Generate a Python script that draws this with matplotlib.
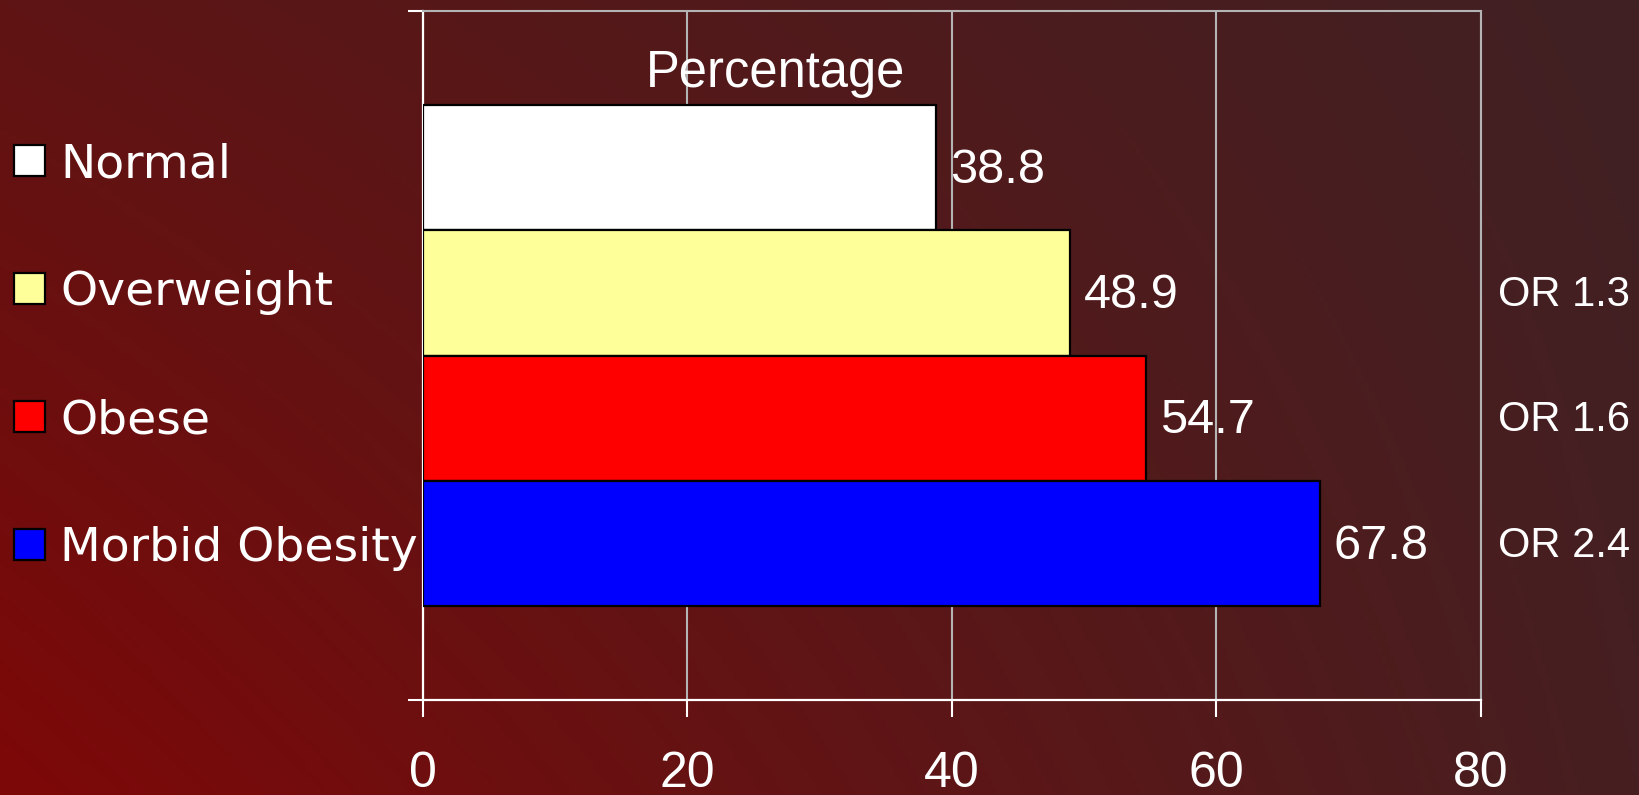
import numpy as np
import matplotlib
matplotlib.use("Agg")
import matplotlib.pyplot as plt
from matplotlib.patches import Rectangle

# ---- data ----
series = ["Normal", "Overweight", "Obese", "Morbid Obesity"]
values = [38.8, 48.9, 54.7, 67.8]
odds = ["", "OR 1.3", "OR 1.6", "OR 2.4"]
colors = ["#FFFFFF", "#FFFF99", "#FF0000", "#0000FF"]
xticks = [0, 20, 40, 60, 80]
title = "Percentage"

W, H = 1640, 795
fig = plt.figure(figsize=(W / 100, H / 100), dpi=100)

# ---- background gradient ----
bg = fig.add_axes([0, 0, 1, 1], zorder=-10)
bg.set_axis_off()
tl = np.array([95, 20, 20]) / 255
tr = np.array([64, 33, 36]) / 255
bl = np.array([126, 8, 8]) / 255
br = np.array([70, 31, 33]) / 255
u = np.linspace(0, 1, 400)[None, :, None]
v = np.linspace(0, 1, 200)[:, None, None]
top = tl * (1 - u) + tr * u
bot = bl * (1 - u) + br * u
img = top * (1 - v) + bot * v
bg.imshow(img, aspect="auto", extent=[0, 1, 0, 1], origin="upper")
bg.set_xlim(0, 1)
bg.set_ylim(0, 1)

# ---- main axes ----
L, R, T, B = 423, 1481, 11, 700
ax = fig.add_axes([L / W, 1 - B / H, (R - L) / W, (B - T) / H])
ax.set_facecolor("none")

ypos = np.arange(len(series))
ax.barh(ypos, values, height=1.0, color=colors, edgecolor="black",
        linewidth=1.6, zorder=3)
ax.set_xlim(0, 80)
ax.set_ylim(3.5 + 0.75, -0.5 - 0.75)

ax.set_xticks(xticks)
ax.set_xticklabels([str(t) for t in xticks], fontsize=36,
                   family="Liberation Sans", color="white")
ax.set_yticks(list(ax.get_ylim()))
ax.set_yticklabels(["", ""])
ax.tick_params(axis="x", direction="out", length=12, width=1.5,
               color="white", pad=25)
ax.tick_params(axis="y", direction="out", length=11, width=1.5,
               color="white")

ax.grid(axis="x", color="#b4b4b4", linewidth=1.5, zorder=0)
ax.set_axisbelow(True)
for s in ["left", "bottom"]:
    ax.spines[s].set_color("white")
    ax.spines[s].set_linewidth(1.6)
for s in ["top", "right"]:
    ax.spines[s].set_color("#b4b4b4")
    ax.spines[s].set_linewidth(1.5)

# value labels
for yi, val in zip(ypos, values):
    ax.annotate(f"{val:.1f}", xy=(val, yi), xytext=(10, -11),
                textcoords="offset points", va="baseline", ha="left",
                fontsize=35, family="Liberation Sans", color="white",
                zorder=5)

# odds ratio labels
for yi, o in zip(ypos, odds):
    if o:
        ax.annotate(o, xy=(1.0, yi), xycoords=("axes fraction", "data"),
                    xytext=(12, -9.5), textcoords="offset points",
                    va="baseline", ha="left", fontsize=30,
                    family="Liberation Sans", color="white",
                    annotation_clip=False)

# title
fig.text(776 / W, 1 - 87 / H, title, ha="center", va="baseline",
         fontsize=36.5, family="Liberation Sans", color="white")

# ---- legend (manual) ----
row_y = [160, 288, 416, 544]
for name, c, yp in zip(series, colors, row_y):
    sq = 31
    fig.patches.append(Rectangle((14 / W, 1 - (yp + sq / 2) / H), sq / W, sq / H,
                                 transform=fig.transFigure, facecolor=c,
                                 edgecolor="black", linewidth=1.6))
    fig.text(60 / W, 1 - (yp + 17) / H, name, ha="left", va="baseline",
             fontsize=34, family="DejaVu Sans", color="white")

fig.savefig("out.png", dpi=100)
